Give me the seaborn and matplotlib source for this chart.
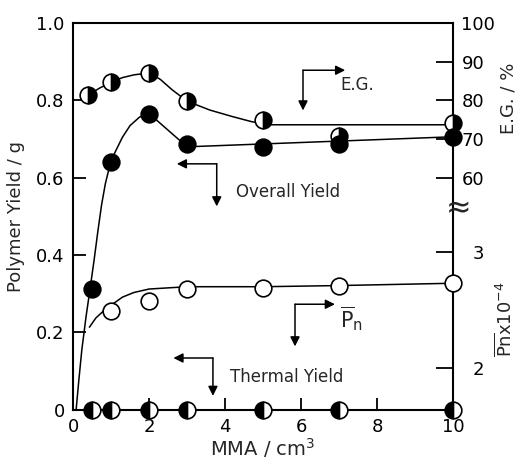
import numpy as np
import pandas as pd
import seaborn as sns
import matplotlib.pyplot as plt
import matplotlib.transforms as mtransforms

# MMA volume (cm3) for each series
mma = [0.5, 1, 2, 3, 5, 7, 10]
mma_eg = [0.4, 1, 2, 3, 5, 7, 10]
mma_pn = [1, 2, 3, 5, 7, 10]

# Polymer yield (g)
overall_yield = [0.312, 0.642, 0.766, 0.686, 0.680, 0.686, 0.705]
thermal_yield = [0, 0, 0, 0, 0, 0, 0]

# E.G. (%) and Pn x 10^-4
eg_percent = [81.4, 84.7, 87.0, 79.8, 74.9, 70.8, 74.2]
pn = [2.49, 2.58, 2.68, 2.69, 2.71, 2.73]

# hand-drawn guide curves
overall_curve_x = [0.08, 0.15, 0.23, 0.34, 0.45, 0.55, 0.65, 0.75, 0.85, 0.95, 1.1, 1.3, 1.5, 1.75, 2.0, 3.0, 10]
overall_curve_y = [0.0, 0.075, 0.155, 0.24, 0.315, 0.385, 0.46, 0.53, 0.585, 0.625, 0.665, 0.705, 0.735, 0.757, 0.766, 0.680, 0.706]
eg_curve_x = [0.4, 0.7, 1.0, 1.3, 1.6, 1.9, 2.1, 2.3, 2.6, 3.0, 3.6, 4.2, 4.7, 5.2, 10]
eg_curve_y = [81.4, 83.2, 84.7, 85.9, 86.6, 87.0, 86.6, 85.4, 82.8, 79.8, 77.5, 75.8, 74.5, 73.7, 73.7]
pn_curve_x = [0.43, 0.6, 0.8, 1.0, 1.3, 1.6, 2.0, 2.5, 3.0, 5, 7, 10]
pn_curve_y = [2.35, 2.43, 2.49, 2.54, 2.61, 2.65, 2.68, 2.69, 2.70, 2.70, 2.71, 2.73]


def pn_to_yield(p):
    # lower part of the right axis: Pn 2 and 3 sit at these left-axis heights
    return 0.109 + (np.asarray(p) - 2) * 0.299


def eg_to_yield(e):
    return np.asarray(e) / 100.0


sns.set_style('ticks')
plt.rcParams['font.family'] = ['DejaVu Sans']
plt.rcParams['mathtext.fontset'] = 'dejavusans'

fig = plt.figure(figsize=(5.22, 4.61), dpi=100)
ax = fig.add_axes([0.140, 0.111, 0.728, 0.839])

line_kw = dict(color='black', lw=1.1, ax=ax, sort=False)
mark_kw = dict(marker='o', linestyle='', markersize=12, color='black',
               markeredgecolor='black', markeredgewidth=1.2, clip_on=False, ax=ax)

# guide curves
sns.lineplot(x=overall_curve_x, y=overall_curve_y, zorder=2, **line_kw)
sns.lineplot(x=eg_curve_x, y=eg_to_yield(eg_curve_y), zorder=2, **line_kw)
sns.lineplot(x=pn_curve_x, y=pn_to_yield(pn_curve_y), zorder=2, **line_kw)
sns.lineplot(x=mma, y=thermal_yield, zorder=2, clip_on=False, **line_kw)

# markers
sns.lineplot(x=mma, y=thermal_yield, fillstyle='left', markerfacecolor='black',
             markerfacecoloralt='white', zorder=4, **mark_kw)
sns.lineplot(x=mma_pn, y=pn_to_yield(pn), markerfacecolor='white', zorder=4, **mark_kw)
sns.lineplot(x=mma_eg, y=eg_to_yield(eg_percent), fillstyle='right', markerfacecolor='black',
             markerfacecoloralt='white', zorder=4, **mark_kw)
sns.lineplot(x=mma, y=overall_yield, markerfacecolor='black', zorder=5, **mark_kw)

ax.set_xlim(0, 10)
ax.set_ylim(0, 1)
ax.set_xticks([0, 2, 4, 6, 8, 10])
ax.set_xticklabels(['0', '2', '4', '6', '8', '10'])
ax.set_yticks([0, 0.2, 0.4, 0.6, 0.8, 1.0])
ax.set_yticklabels(['0', '0.2', '0.4', '0.6', '0.8', '1.0'])
ax.tick_params(direction='in', length=9, width=1.3, labelsize=13, pad=6, colors='black')
for s in ax.spines.values():
    s.set_linewidth(1.5)
    s.set_color('black')
ax.set_xlabel('MMA / cm$^3$', fontsize=14, labelpad=0)
ax.set_ylabel('Polymer Yield / g', fontsize=13, labelpad=8)

# right axis: E.G. (upper) and Pn (lower) with a break
twin = ax.twinx()
twin.set_ylim(0, 1)
twin.set_yticks(list(pn_to_yield([2, 3])) + list(eg_to_yield([60, 70, 80, 90, 100])))
twin.set_yticklabels(['2', '3', '60', '70', '80', '90', '100'])
twin.tick_params(direction='in', length=12, width=1.3, labelsize=13, pad=6, colors='black')
for t in twin.yaxis.get_major_ticks()[:2]:
    t.set_pad(14)
for s in twin.spines.values():
    s.set_visible(False)

trans = mtransforms.blended_transform_factory(ax.transAxes, ax.transData)
ax.text(1.013, 0.52, '\u2248', transform=trans, ha='center', va='center', fontsize=22,
        clip_on=False, zorder=6)

ax.text(1.145, 0.805, 'E.G. / %', transform=ax.transAxes, rotation=90, ha='center',
        va='center', fontsize=13)
ax.text(1.137, 0.234, r'$\overline{\mathrm{Pn}}$x10$^{-4}$', transform=ax.transAxes,
        rotation=90, ha='center', va='center', fontsize=13)

# bracket arrows with labels
arrow_kw = dict(arrowstyle='-|>', color='black', lw=1.1, mutation_scale=14, shrinkA=0, shrinkB=0)


def bracket(corner, side_x, down_y, label, label_xy, size=12):
    ax.annotate('', xy=(side_x, corner[1]), xytext=corner, arrowprops=arrow_kw)
    ax.annotate('', xy=(corner[0], down_y), xytext=corner, arrowprops=arrow_kw)
    ax.text(label_xy[0], label_xy[1], label, ha='left', va='center', fontsize=size)


bracket((6.05, 0.878), 7.16, 0.774, 'E.G.', (7.03, 0.84))
bracket((3.78, 0.636), 2.73, 0.526, 'Overall Yield', (4.29, 0.564))
bracket((5.84, 0.273), 6.89, 0.164, r'$\overline{\mathrm{P}}_{\mathrm{n}}$', (7.03, 0.235), size=15)
bracket((3.68, 0.134), 2.64, 0.036, 'Thermal Yield', (4.13, 0.086))

fig.savefig('out.png', dpi=100)
